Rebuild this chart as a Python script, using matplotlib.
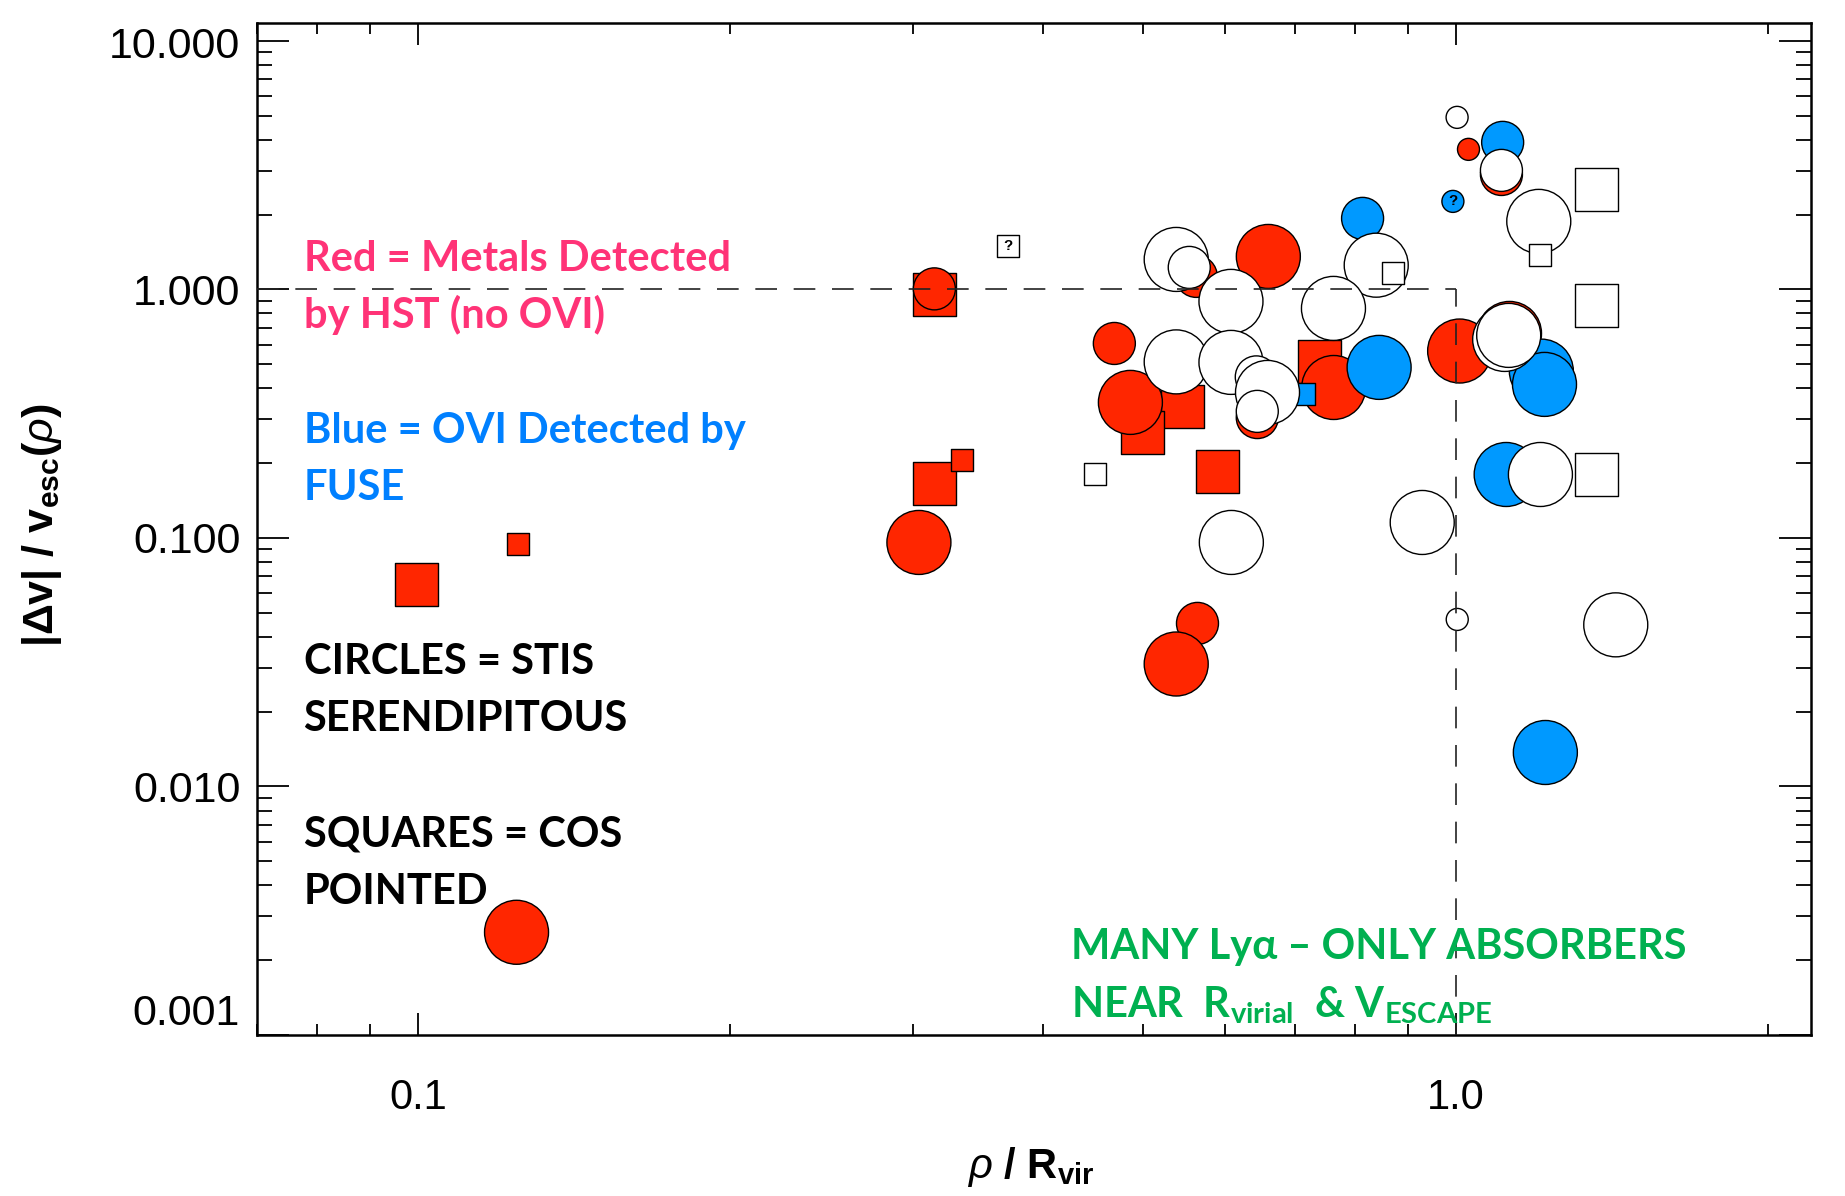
import numpy as np
import matplotlib
matplotlib.use('Agg')
import matplotlib.pyplot as plt
from matplotlib.ticker import LogLocator, NullFormatter, FixedLocator, FixedFormatter

plt.rcParams['mathtext.fontset'] = 'custom'
plt.rcParams['mathtext.rm'] = 'Lato:bold'
plt.rcParams['mathtext.sf'] = 'Liberation Sans:bold'
plt.rcParams['mathtext.it'] = 'Liberation Sans:italic'
plt.rcParams['mathtext.bf'] = 'Liberation Sans:bold'

# ---------------- data ----------------
# red filled circles: metals detected (STIS serendipitous)
red_circ_x = [0.1245, 0.304, 0.3146, 0.469, 0.486, 0.5625, 0.660, 0.644, 0.763,
              0.564, 0.538, 1.029, 1.107, 1.009, 1.127]
red_circ_y = [0.00259, 0.0959, 1.005, 0.606, 0.351, 1.128, 1.357, 0.305, 0.403,
              0.0453, 0.0311, 3.66, 2.90, 0.565, 0.665]
red_circ_c = ['L', 'L', 'M', 'M', 'L', 'M', 'L', 'M', 'L',
              'M', 'L', 'S', 'M', 'L', 'L']

# red filled squares: metals detected (COS pointed)
red_sq_x = [0.0997, 0.1249, 0.3146, 0.3146, 0.3346, 0.546, 0.499, 0.5895, 0.7394]
red_sq_y = [0.065, 0.0944, 0.955, 0.1657, 0.206, 0.3366, 0.2658, 0.1857, 0.511]
red_sq_c = ['L', 'S', 'L', 'L', 'S', 'L', 'L', 'L', 'L']

# blue filled circles: OVI detected by FUSE
blue_circ_x = [0.8135, 0.8439, 1.110, 0.994, 1.2095, 1.218, 1.1187, 1.2203]
blue_circ_y = [1.931, 0.4855, 3.905, 2.26, 0.469, 0.4147, 0.180, 0.0137]
blue_circ_c = ['M', 'L', 'M', 'S', 'L', 'L', 'L', 'L']

# blue filled squares
blue_sq_x = [0.7137]
blue_sq_y = [0.378]
blue_sq_c = ['S']

# open circles: Lya only
open_circ_x = [0.538, 0.5538, 0.6075, 0.8385, 0.7626, 0.538, 0.6075, 0.6426, 0.6588,
               0.644, 0.608, 0.9286, 1.0033, 1.107, 1.2026, 1.115, 1.125, 1.207,
               1.0036, 1.4266]
open_circ_y = [1.32, 1.226, 0.895, 1.2514, 0.8386, 0.5109, 0.5085, 0.4446, 0.385,
               0.323, 0.0959, 0.1154, 4.923, 3.012, 1.878, 0.629, 0.653, 0.180,
               0.047, 0.0447]
open_circ_c = ['L', 'M', 'L', 'L', 'L', 'L', 'L', 'M', 'L',
               'M', 'L', 'L', 'S', 'M', 'L', 'L', 'L', 'L',
               'S', 'L']

# open squares
open_sq_x = [0.3703, 0.449, 0.8694, 1.205, 1.3677, 1.3677, 1.3677]
open_sq_y = [1.49, 0.1806, 1.16, 1.37, 2.533, 0.862, 0.1806]
open_sq_c = ['S', 'S', 'S', 'S', 'L', 'L', 'L']

# uncertain points marked with "?"
query_x = [0.3703, 0.994]
query_y = [1.49, 2.26]

x_ticks = [0.1, 1.0]
x_ticklabels = ['0.1', '1.0']
y_ticks = [0.001, 0.01, 0.1, 1.0, 10.0]
y_ticklabels = ['0.001', '0.010', '0.100', '1.000', '10.000']

# ---------------- style ----------------
RED = '#FF2600'
BLUE = '#0099FF'
CIRC_PX = {'L': 64, 'M': 42, 'S': 22}
SQ_PX = {'L': 43, 'S': 22}

W, H = 1845, 1196
fig = plt.figure(figsize=(W / 100, H / 100), dpi=100)
ax = fig.add_axes([257 / W, 1 - 1035 / H, (1811 - 257) / W, (1035 - 23) / H])
ax.set_xscale('log')
ax.set_yscale('log')
ax.set_xlim(0.07, 2.2)
ax.set_ylim(0.001, 11.8)


def draw(xs, ys, cls, marker, face, z):
    table = CIRC_PX if marker == 'o' else SQ_PX
    sz = np.array([table[c] * 0.72 for c in cls])
    ax.scatter(xs, ys, s=sz ** 2, marker=marker, facecolors=face,
               edgecolors='black', linewidths=1.0, zorder=z)


draw(red_sq_x, red_sq_y, red_sq_c, 's', RED, 3)
draw(red_circ_x, red_circ_y, red_circ_c, 'o', RED, 4)
draw(blue_circ_x, blue_circ_y, blue_circ_c, 'o', BLUE, 5)
draw(blue_sq_x, blue_sq_y, blue_sq_c, 's', BLUE, 6)
draw(open_circ_x, open_circ_y, open_circ_c, 'o', 'white', 7)
draw(open_sq_x, open_sq_y, open_sq_c, 's', 'white', 8)

for qx, qy in zip(query_x, query_y):
    ax.text(qx, qy, '?', ha='center', va='center', fontsize=11,
            fontweight='bold', family='Liberation Sans', zorder=9)

# reference lines at R_vir and v_esc
ax.plot([0.07, 1.0], [1.0, 1.0], color='#222222', lw=1.2,
        ls=(0, (13, 10)), zorder=10)
ax.plot([1.0, 1.0], [0.001, 1.0], color='#222222', lw=1.2,
        ls=(0, (13, 10)), zorder=10)

# axes formatting
for sp in ax.spines.values():
    sp.set_linewidth(1.8)
ax.xaxis.set_major_locator(FixedLocator(x_ticks))
ax.xaxis.set_major_formatter(FixedFormatter(x_ticklabels))
ax.xaxis.set_minor_locator(LogLocator(base=10, subs=np.arange(2, 10)))
ax.xaxis.set_minor_formatter(NullFormatter())
ax.yaxis.set_major_locator(FixedLocator(y_ticks))
# the extreme y labels are nudged inward (as in the original), drawn below
ax.yaxis.set_major_formatter(FixedFormatter([''] + y_ticklabels[1:-1] + ['']))
ax.yaxis.set_minor_locator(LogLocator(base=10, subs=np.arange(2, 10)))
ax.yaxis.set_minor_formatter(NullFormatter())
ax.tick_params(which='both', direction='in', top=True, right=True, width=1.3)
ax.tick_params(axis='x', which='major', length=16, pad=31, labelsize=30)
ax.tick_params(axis='x', which='minor', length=8)
ax.tick_params(axis='y', which='major', length=23, pad=12, labelsize=31)
ax.tick_params(axis='y', which='minor', length=11)
for lab in ax.get_xticklabels() + ax.get_yticklabels():
    lab.set_family('Liberation Sans')
fig.text(240 / W, 1 - 1014 / H, y_ticklabels[0], ha='right', va='center',
         fontsize=31, family='Liberation Sans')
fig.text(240 / W, 1 - 47 / H, y_ticklabels[-1], ha='right', va='center',
         fontsize=31, family='Liberation Sans')

# axis titles
fig.text(1031 / W, 1 - 1178 / H, r'$\rho$ / R$_{\mathsf{vir}}$', ha='center',
         va='baseline', fontsize=30, fontweight='bold', family='Liberation Sans')
fig.text(42 / W, 1 - 525 / H, r'|Δv| / v$_{\mathsf{esc}}$($\rho$)', ha='center',
         va='center', rotation=90, fontsize=31, fontweight='bold',
         family='Liberation Sans')

# annotations
FAM = ['Lato', 'DejaVu Sans']
AFS = 30
x0 = 303.6 / W
fig.text(x0, 1 - 271 / H, 'Red = Metals Detected', color='#FF3377',
         fontsize=AFS, fontweight='bold', family=FAM)
fig.text(x0, 1 - 328.3 / H, 'by HST (no OVI)', color='#FF3377',
         fontsize=AFS, fontweight='bold', family=FAM)
fig.text(x0, 1 - 442.7 / H, 'Blue = OVI Detected by', color='#0080FF',
         fontsize=AFS, fontweight='bold', family=FAM)
fig.text(x0, 1 - 500 / H, 'FUSE', color='#0080FF',
         fontsize=AFS, fontweight='bold', family=FAM)
fig.text(x0, 1 - 674 / H, 'CIRCLES = STIS', color='black',
         fontsize=AFS, fontweight='bold', family=FAM)
fig.text(x0, 1 - 730.6 / H, 'SERENDIPITOUS', color='black',
         fontsize=AFS, fontweight='bold', family=FAM)
fig.text(x0, 1 - 847 / H, 'SQUARES = COS', color='black',
         fontsize=AFS, fontweight='bold', family=FAM)
fig.text(x0, 1 - 903.6 / H, 'POINTED', color='black',
         fontsize=AFS, fontweight='bold', family=FAM)
fig.text(1071 / W, 1 - 959 / H, 'MANY Lyα – ONLY ABSORBERS', color='#00B050',
         fontsize=AFS, fontweight='bold', family=FAM)
fig.text(1071 / W, 1 - 1016.6 / H,
         r'NEAR  R$_{\mathrm{virial}}$  & V$_{\mathrm{ESCAPE}}$',
         color='#00B050', fontsize=AFS, fontweight='bold', family=FAM)

fig.savefig('out.png', dpi=100)
